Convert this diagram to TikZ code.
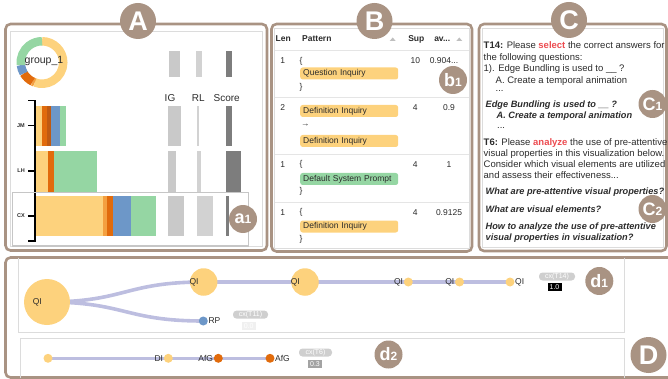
\documentclass[tikz,border=0pt]{standalone}
\usepackage{fontspec}
\setmainfont{Liberation Sans}
\usepackage{tikz}
\usetikzlibrary{backgrounds}

\definecolor{markbrown}{HTML}{A99383}
\definecolor{framegray}{HTML}{DCDCDC}
\definecolor{qiyellow}{HTML}{FDD27D}
\definecolor{afgorange}{HTML}{E16B0C}
\definecolor{lightorange}{HTML}{F4A040}
\definecolor{deeporange}{HTML}{BF5A12}
\definecolor{rpblue}{HTML}{6D97C8}
\definecolor{dspgreen}{HTML}{95D6A3}
\definecolor{flowviolet}{HTML}{BDBEE0}
\definecolor{igbar}{HTML}{C9C9C9}
\definecolor{rlbar}{HTML}{D2D2D2}
\definecolor{scorebar}{HTML}{7D7D7D}
\definecolor{hlgray}{HTML}{C6C6C6}
\definecolor{pillgray}{HTML}{CFCFCF}
\definecolor{keyred}{HTML}{EC4B50}
\definecolor{inkgray}{HTML}{2B2B2B}

\newcommand{\fsz}[1]{\fontsize{#1}{#1}\selectfont}
\newcommand{\badgetext}[2]{#1{\fsz{12}#2}}
\newcommand{\threedots}{...}

\begin{document}
\begin{tikzpicture}[
    x=1pt, y=-1pt,
    panel/.style={draw=markbrown, line width=2.6pt, rounded corners=5pt},
    innerframe/.style={draw=framegray, line width=0.9pt},
    bigmark/.style={circle, fill=markbrown, text=white, minimum size=36pt, inner sep=0pt, font=\bfseries\fsz{27}},
    submark/.style={circle, fill=markbrown, text=white, minimum size=28pt, inner sep=0pt, font=\bfseries\fsz{18}},
    chip/.style={fill=#1, rounded corners=2.5pt, anchor=west, text width=92pt, align=left, inner xsep=3pt, inner ysep=0pt, minimum height=12pt, text=inkgray, font=\fsz{8.5}},
    cell/.style={inner sep=0pt, text=inkgray, font=\fsz{8.5}},
    colhead/.style={inner sep=0pt, text=inkgray, font=\bfseries\fsz{8.5}},
    ctext/.style={anchor=base west, inner sep=0pt, text=inkgray, font=\fsz{9.5}},
    qtext/.style={ctext, font=\bfseries\itshape\fsz{9.2}},
    flow/.style={draw=flowviolet, line width=3.6pt},
    fdot/.style={circle, fill=#1, minimum size=9pt, inner sep=0pt},
    bubble/.style={circle, fill=qiyellow, minimum size=#1, inner sep=0pt},
    nlab/.style={inner sep=0pt, text=inkgray, font=\fsz{8.5}},
    pill/.style={fill=pillgray, text=white, rounded corners=3.5pt, minimum width=#1, minimum height=8pt, inner sep=0pt, font=\fsz{7}},
    valbox/.style={fill=#1, text=white, minimum width=14pt, minimum height=8pt, inner sep=0pt, font=\fsz{7}},
]
\useasboundingbox (0,0) rectangle (668,379);

% panel A
\draw[panel] (5.5,24) rectangle (267,250.5);
\draw[innerframe] (10.3,31.5) rectangle (262.3,246.5);
\coordinate (donut) at (42,62.5);
\foreach \a/\b/\c in {90/-110/qiyellow, -110/-116/lightorange, -116/-149/afgorange, -149/-173/rpblue, -173/-270/dspgreen}
  \draw[\c, line width=8.5pt] ([shift={(\a:21.25pt)}]donut) arc[start angle=\a, end angle=\b, radius=21.25pt];
\node[inner sep=0pt, text=inkgray, font=\fsz{10.5}] (group) at (44,61) {group\_1};

\foreach \xa/\xb/\ya/\yb/\c in {
    169.3/180/50.7/76.7/igbar, 196/202/50.7/76.7/rlbar, 225.7/232.3/50.7/76.7/scorebar,
    36/42/106/146/qiyellow, 42/47/106/146/afgorange, 47/51/106/146/deeporange, 51/60/106/146/rpblue, 60/66/106/146/dspgreen,
    168.3/181/106/146/igbar, 196.7/198.7/106/146/rlbar, 225.7/232.3/106/146/scorebar,
    36/48/151/192/qiyellow, 48/54/151/192/afgorange, 54/97/151/192/dspgreen,
    168.3/175.7/151/192/igbar, 196.7/201/151/192/rlbar, 225.7/241.3/151/192/scorebar,
    36/103.3/196/236/qiyellow, 103.3/106.7/196/236/lightorange, 106.7/112.7/196/236/afgorange, 112.7/131/196/236/rpblue, 131/155.7/196/236/dspgreen,
    168.3/184.3/196/236/igbar, 196.7/212.7/196/236/rlbar, 225.7/228.7/196/236/scorebar}
  \fill[\c] (\xa,\ya) rectangle (\xb,\yb);

\node[cell, font=\fsz{10}] (colIG) at (170,98.3) {IG};
\node[cell, font=\fsz{10}] (colRL) at (198.3,98.3) {RL};
\node[cell, font=\fsz{10}] (colScore) at (226.7,98.3) {Score};

\draw[line width=1.2pt, black] (28,100.5) -- (35,100.5) -- (35,241) -- (28,241);
\foreach \y/\t in {125.5/JM, 171/LH, 216/CX} {
  \draw[line width=1.2pt, black] (28,\y) -- (35,\y);
  \node[anchor=east, inner sep=0pt, font=\bfseries\fsz{5.5}, text=inkgray] (lab\t) at (25,\y) {\t};
}
\draw[hlgray, line width=1.4pt] (12.7,192.7) rectangle (248.3,246);
\node[bigmark] (markA) at (138,21) {A};
\node[submark] (markA1) at (243,219) {\badgetext{a}{1}};

% panel B
\draw[panel] (271.5,24) rectangle (472,251.5);
\draw[innerframe] (274.5,28.5) rectangle (469,248);
\node[colhead] (hLen) at (283.3,39) {Len};
\node[colhead, anchor=west] (hPat) at (302,39) {Pattern};
\node[colhead] (hSup) at (416.3,39) {Sup};
\node[colhead] (hAvg) at (442.2,39) {av...};
\foreach \x in {392.7,459.3}
  \fill[black!25] (\x-3,41) -- (\x+3,41) -- (\x,37.5) -- cycle;
\foreach \y in {50,97.7,154.3,202}
  \draw[black!10, line width=0.8pt] (274.5,\y) -- (469,\y);

\foreach \y/\n/\s/\x/\v [count=\i] in {61/1/10/444/{0.904\threedots}, 107.7/2/4/449/{0.9}, 164.3/1/4/449/{1}, 212.3/1/4/449/{0.9125}} {
  \node[cell] (len\i) at (282.7,\y) {\n};
  \node[cell] (sup\i) at (415.3,\y) {\s};
  \node[cell] (avg\i) at (\x,\y) {\v};
}
\node[cell, anchor=west] (open1) at (299.3,61) {\{};
\node[chip=qiyellow] (pat1) at (300,73.5) {Question Inquiry};
\node[cell, anchor=west] (close1) at (299.3,87.3) {\}};
\node[chip=qiyellow] (pat2a) at (300,111) {Definition Inquiry};
\node[cell, anchor=west] (arr2) at (301,125) {→};
\node[chip=qiyellow] (pat2b) at (300,141) {Definition Inquiry};
\node[cell, anchor=west] (open3) at (299.3,164.3) {\{};
\node[chip=dspgreen] (pat3) at (300,179) {Default System Prompt};
\node[cell, anchor=west] (close3) at (299.3,191.7) {\}};
\node[cell, anchor=west] (open4) at (299.3,212.3) {\{};
\node[chip=qiyellow] (pat4) at (300,226.5) {Definition Inquiry};
\node[cell, anchor=west] (close4) at (299.3,239.3) {\}};
\node[bigmark] (markB) at (374.5,21) {B};
\node[submark] (markB1) at (453,80) {\badgetext{b}{1}};

% panel C
\draw[panel] (479,24) rectangle (666.5,251);
\draw[innerframe] (482,28.5) rectangle (663.5,247.5);
\node[submark] (markC1) at (652.5,104) {\badgetext{C}{1}};
\node[submark] (markC2) at (652.5,209) {\badgetext{C}{2}};
\foreach \x/\y/\t [count=\i] in {
    483.5/49/{\textbf{T14:} Please {\color{keyred}\bfseries select} the correct answers for},
    483.5/60.5/{the following questions:},
    483.5/72/{1). Edge Bundling is used to \_\_ ?},
    495.5/83.5/{A. Create a temporal animation},
    495.5/92/{\threedots},
    497/128.5/{\threedots},
    483.5/145.5/{\textbf{T6:} Please {\color{keyred}\bfseries analyze} the use of pre-attentive},
    483.5/156.5/{visual properties in this visualization below.},
    483.5/168/{Consider which visual elements are utilized},
    483.5/179/{and assess their effectiveness\threedots}}
  \node[ctext] (task\i) at (\x,\y) {\t};
\foreach \x/\y/\t [count=\i] in {
    485.5/108/{Edge Bundling is used to \_\_ ?},
    496.5/119/{A. Create a temporal animation},
    485.5/194/{What are pre-attentive visual properties?},
    485.5/212.5/{What are visual elements?},
    485.5/229.5/{How to analyze the use of pre-attentive},
    485.5/240/{visual properties in visualization?}}
  \node[qtext] (ques\i) at (\x,\y) {\t};
\node[bigmark] (markC) at (569,20) {C};

% panel D
\draw[panel] (668,257.5) -- (5.5,257.5) -- (5.5,377.5) -- (668,377.5);
\draw[innerframe] (18.3,257.5) -- (18.3,332.3) -- (624,332.3) -- (624,257.5);
\draw[innerframe] (20,377.5) -- (20,338.3) -- (624,338.3) -- (624,377.5);

\node[bubble=46pt] (qi0) at (47,302) {};
\node[bubble=27.5pt] (qi1) at (203.7,282) {};
\node[bubble=27.5pt] (qi2) at (305,282) {};
\node[fdot=qiyellow] (qi3) at (408.3,282) {};
\node[fdot=qiyellow] (qi4) at (459.5,282) {};
\node[fdot=qiyellow] (qi5) at (510,282) {};
\node[fdot=rpblue] (rp) at (203.3,321) {};
\node[fdot=qiyellow] (di0) at (48,358.3) {};
\node[fdot=qiyellow] (di1) at (168.3,358.3) {};
\node[fdot=afgorange] (afg0) at (218.3,358.3) {};
\node[fdot=afgorange] (afg1) at (270,358.3) {};
\begin{scope}[on background layer]
  \draw[flow] (qi0.center) .. controls (125,302) and (125,282) .. (qi1.center);
  \draw[flow] (qi0.center) .. controls (125,302) and (125,321) .. (rp.center);
  \draw[flow] (qi1.center) -- (qi2.center) -- (qi3.center) -- (qi4.center) -- (qi5.center);
  \draw[flow] (di0.center) -- (di1.center) -- (afg0.center) -- (afg1.center);
\end{scope}
\foreach \n in {qi0,qi1,qi2,qi3,qi4}
  \node[nlab, anchor=east] (\n-lab) at ([xshift=-5pt]\n.center) {QI};
\node[nlab, anchor=west] (qi5-lab) at ([xshift=5pt]qi5.center) {QI};
\node[nlab, anchor=west] (rp-lab) at ([xshift=5pt]rp.center) {RP};
\node[nlab, anchor=east] (di1-lab) at ([xshift=-5pt]di1.center) {DI};
\node[nlab, anchor=east] (afg0-lab) at ([xshift=-5pt]afg0.center) {AfG};
\node[nlab, anchor=west] (afg1-lab) at ([xshift=5pt]afg1.center) {AfG};

\node[pill=35pt] (cx11) at (250.5,314.6) {cx(T11)};
\node[valbox=black!6] (v11) at (248.7,326) {0.0};
\node[pill=36pt] (cx14) at (557,276.5) {cx(T14)};
\node[valbox=black] (v14) at (554.5,287.2) {1.0};
\node[pill=33pt] (cx6) at (315.5,352.5) {cx(T6)};
\node[valbox=black!36] (v6) at (315,364) {0.3};

\node[submark] (markD1) at (599.3,281) {\badgetext{d}{1}};
\node[submark] (markD2) at (388.5,354.5) {\badgetext{d}{2}};
\node[bigmark] (markD) at (648.5,355) {D};
\end{tikzpicture}
\end{document}
